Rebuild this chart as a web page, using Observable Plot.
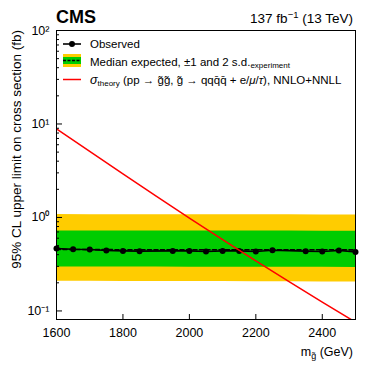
<!DOCTYPE html>
<html><head><meta charset="utf-8">
<script src="https://cdn.jsdelivr.net/npm/d3@7"></script>
<script src="https://cdn.jsdelivr.net/npm/@observablehq/plot@0.6"></script>
<style>
body{margin:0;background:#fff}
#chart{width:374px;height:374px}
</style>
</head><body><div id="chart"></div>
<script>
// ---- data ----
const obsMass  = [1600,1650,1700,1750,1800,1850,1950,2000,2050,2100,2150,2200,2250,2350,2400,2450,2500];
const obsLimit = [0.465,0.457,0.454,0.443,0.439,0.436,0.439,0.439,0.432,0.439,0.439,0.432,0.446,0.436,0.432,0.443,0.428];

const expMass   = [1600,1700,1800,1900,2000,2100,2200,2300,2400,2500];
const expMedian = [0.455,0.453,0.452,0.452,0.452,0.452,0.451,0.451,0.451,0.450];
const expPlus1  = [0.718,0.716,0.716,0.715,0.715,0.716,0.716,0.715,0.714,0.714];
const expMinus1 = [0.296,0.295,0.295,0.295,0.294,0.294,0.294,0.293,0.293,0.292];
const expPlus2  = [1.074,1.072,1.070,1.070,1.068,1.068,1.066,1.066,1.064,1.064];
const expMinus2 = [0.208,0.208,0.207,0.207,0.206,0.206,0.205,0.205,0.204,0.204];

const thMass  = [1600,1700,1800,1900,2000,2100,2200,2300,2400,2500];
const thXsec  = [8.87,5.08,2.92,1.69,0.984,0.578,0.344,0.206,0.124,0.0759];

const xTicks = [1600,1800,2000,2200,2400];
const yMajor = [0.1,1,10,100];
const yMajorLabels = ["10⁻¹","10⁰","10¹","10²"];
const yMinor = [0.2,0.3,0.4,0.5,0.6,0.7,0.8,0.9,2,3,4,5,6,7,8,9,20,30,40,50,60,70,80,90];

// ---- tables ----
const obsTable = obsMass.map((m,i)=>({m, v: obsLimit[i]}));
const expTable = expMass.map((m,i)=>({m, med: expMedian[i], p1: expPlus1[i], m1: expMinus1[i], p2: expPlus2[i], m2: expMinus2[i]}));
const thTable  = thMass.map((m,i)=>({m, v: thXsec[i]}));

const W = 374, H = 374, mL = 56, mR = 19, mT = 30, mB = 55;
const pw = W - mL - mR, ph = H - mT - mB;
const FONT = "'Liberation Sans', Arial, Helvetica, sans-serif";

const plot = Plot.plot({
  width: W, height: H,
  marginLeft: mL, marginRight: mR, marginTop: mT, marginBottom: mB,
  style: {fontFamily: FONT, fontSize: "12.5px", background: "white", color: "black", overflow: "visible"},
  x: {domain: [1600, 2500]},
  y: {type: "log", domain: [0.081, 100]},
  marks: [
    Plot.areaY(expTable, {x: "m", y1: "m2", y2: "p2", fill: "#ffcc00"}),
    Plot.areaY(expTable, {x: "m", y1: "m1", y2: "p1", fill: "#00cc00"}),
    Plot.lineY(expTable, {x: "m", y: "med", stroke: "black", strokeWidth: 1.6, strokeDasharray: "4,2.5"}),
    Plot.lineY(obsTable, {x: "m", y: "v", stroke: "black", strokeWidth: 1.6}),
    Plot.dot(obsTable, {x: "m", y: "v", r: 3, fill: "black", stroke: "none"}),
    Plot.lineY(thTable, {x: "m", y: "v", stroke: "#ff0000", strokeWidth: 1.5, clip: true}),
    Plot.tickY(yMajor, {y: d => d, insetRight: pw - 6, stroke: "black"}),
    Plot.tickY(yMinor, {y: d => d, insetRight: pw - 3, stroke: "black"}),
    Plot.tickX(xTicks, {x: d => d, insetTop: ph - 5, stroke: "black"}),
    Plot.axisX({ticks: xTicks, tickSize: 0, tickPadding: 9, tickFormat: d => String(d), label: null}),
    Plot.axisY({ticks: yMajor, tickSize: 0, tickPadding: 7, tickFormat: d => yMajorLabels[yMajor.indexOf(d)], label: null}),
    Plot.frame({stroke: "black", strokeWidth: 1})
  ]
});
document.getElementById("chart").appendChild(plot);

const svg = d3.select(plot);
const g = svg.append("g").attr("font-family", FONT).attr("fill", "black").attr("text-anchor", "start");

// header
g.append("text").attr("x", 56).attr("y", 23).attr("font-size", 18).attr("font-weight", "bold").text("CMS");
const lum = g.append("text").attr("x", 353).attr("y", 23).attr("font-size", 13.5).attr("text-anchor", "end");
lum.append("tspan").text("137 fb");
lum.append("tspan").attr("font-size", 9.5).attr("dy", -5).text("−1");
lum.append("tspan").attr("dy", 5).text(" (13 TeV)");

// axis titles
const xl = g.append("text").attr("x", 353).attr("y", 356).attr("font-size", 12.5).attr("text-anchor", "end");
xl.append("tspan").text("m");
xl.append("tspan").attr("font-size", 9).attr("dy", 3).text("g̃");
xl.append("tspan").attr("dy", -3).text(" (GeV)");

g.append("text").attr("transform", "translate(21,30) rotate(-90)").attr("text-anchor", "end")
  .attr("font-size", 13.5).text("95% CL upper limit on cross section (fb)");

// legend
const lg = g.append("g").attr("font-size", 11.5).attr("text-anchor", "start");
lg.append("line").attr("x1", 63).attr("x2", 81).attr("y1", 44).attr("y2", 44).attr("stroke", "black").attr("stroke-width", 1.6);
lg.append("circle").attr("cx", 72).attr("cy", 44).attr("r", 3);
lg.append("text").attr("x", 90).attr("y", 48).text("Observed");

lg.append("rect").attr("x", 63).attr("y", 54).attr("width", 18).attr("height", 13).attr("fill", "#ffcc00");
lg.append("rect").attr("x", 63).attr("y", 57).attr("width", 18).attr("height", 7).attr("fill", "#00cc00");
lg.append("line").attr("x1", 63).attr("x2", 81).attr("y1", 60.5).attr("y2", 60.5).attr("stroke", "black").attr("stroke-width", 1.4).attr("stroke-dasharray", "3,1.5");
const t2 = lg.append("text").attr("x", 90).attr("y", 65.5);
t2.append("tspan").text("Median expected, ±1 and 2 s.d.");
t2.append("tspan").attr("font-size", 8).attr("dy", 2).text("experiment");

lg.append("line").attr("x1", 63).attr("x2", 81).attr("y1", 79.5).attr("y2", 79.5).attr("stroke", "#ff0000").attr("stroke-width", 1.5);
const t3 = lg.append("text").attr("x", 90).attr("y", 83.5);
t3.append("tspan").attr("font-style", "italic").attr("font-size", 12.5).text("σ");
t3.append("tspan").attr("font-size", 8).attr("dy", 2).text("theory");
t3.append("tspan").attr("dy", -2).text(" (pp → g̃g̃, g̃ → qqq̄q̄ + e/");
t3.append("tspan").attr("font-style", "italic").text("μ");
t3.append("tspan").text("/");
t3.append("tspan").attr("font-style", "italic").text("τ");
t3.append("tspan").text("), NNLO+NNLL");
</script>
</body></html>
